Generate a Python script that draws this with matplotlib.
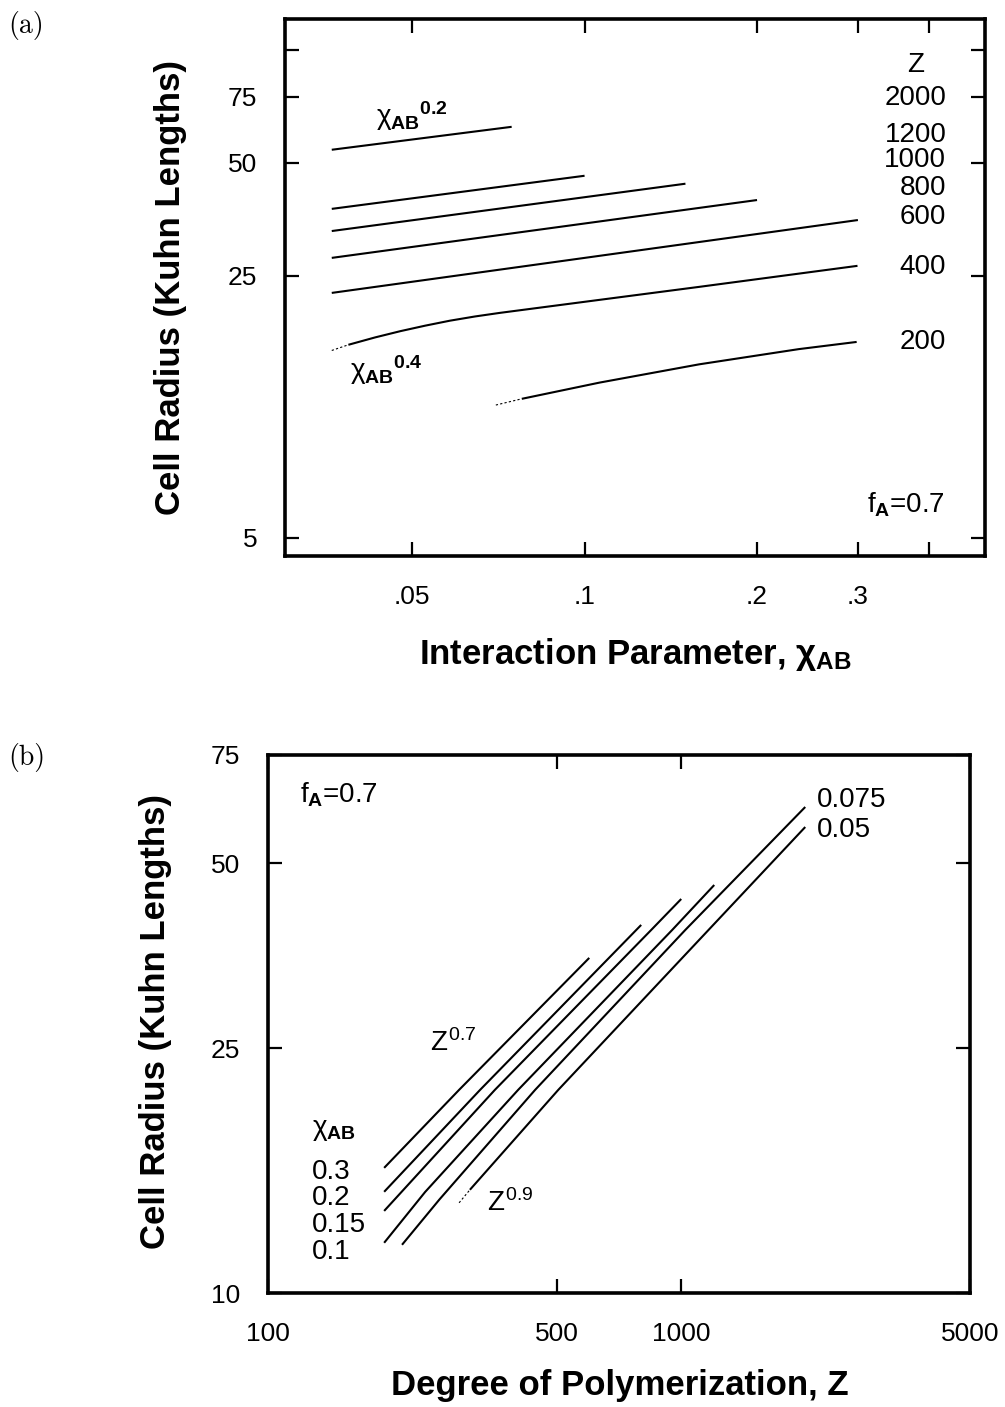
import matplotlib

matplotlib.use("Agg")
import matplotlib.pyplot as plt
from matplotlib.ticker import FixedLocator, FixedFormatter, NullLocator

plt.rcParams["font.family"] = ["Liberation Sans", "DejaVu Sans"]
plt.rcParams["mathtext.fontset"] = "custom"
plt.rcParams["mathtext.rm"] = "Liberation Sans"
plt.rcParams["mathtext.it"] = "Liberation Sans"
plt.rcParams["mathtext.bf"] = "Liberation Sans:bold"

# ---- panel (a): cell radius vs chi_AB, one curve per Z ----
chi_2000 = [0.0362, 0.0746]
r_2000 = [54.2, 62.4]
chi_1200 = [0.0362, 0.1]
r_1200 = [37.7, 46.2]
chi_1000 = [0.0362, 0.15]
r_1000 = [32.9, 44.0]
chi_800 = [0.0362, 0.2]
r_800 = [27.9, 39.8]
chi_600 = [0.0362, 0.3]
r_600 = [22.5, 35.2]
chi_400_lead = [0.0362, 0.0387]
r_400_lead = [15.8, 16.36]
chi_400 = [0.0387, 0.0431, 0.0477, 0.0527, 0.0582, 0.0644, 0.0711,
           0.1062, 0.1585, 0.2995]
r_400 = [16.36, 17.12, 17.79, 18.40, 18.97, 19.47, 19.90,
         21.56, 23.35, 26.57]
chi_200_lead = [0.070, 0.0777]
r_200_lead = [11.3, 11.74]
chi_200 = [0.0777, 0.1062, 0.1585, 0.2365, 0.2985]
r_200 = [11.74, 12.97, 14.51, 15.93, 16.65]

z_labels = ["2000", "1200", "1000", "800", "600", "400", "200"]
z_label_r = [74.5, 59.4, 50.9, 42.9, 35.9, 26.4, 16.6]

# ---- panel (b): cell radius vs Z, one curve per chi_AB ----
z_03 = [191, 290, 599]
r_03 = [15.98, 21.40, 35.08]
z_02 = [191, 326, 800]
r_02 = [14.61, 21.40, 39.69]
z_015 = [191, 354, 846, 1000]
r_015 = [13.60, 21.40, 38.95, 43.74]
z_01 = [191, 240, 403, 951, 1202]
r_01 = [12.07, 14.6, 21.40, 38.95, 46.09]
z_0075 = [211, 260, 443, 1023, 1996]
r_0075 = [11.98, 14.2, 21.40, 38.95, 61.73]
z_005_lead = [290, 308]
r_005_lead = [14.02, 14.72]
z_005 = [308, 504, 1996]
r_005 = [14.72, 21.40, 57.27]

chi_labels = ["0.3", "0.2", "0.15", "0.1"]
chi_label_r = [15.75, 14.3, 12.9, 11.66]

TICK_FS = 19
NOTE_FS = 20
LABEL_FS = 25

fig = plt.figure(figsize=(10.05, 14.07), dpi=100)
ax_a = fig.add_axes([0.2836, 0.6048, 0.6965, 0.3817])
ax_b = fig.add_axes([0.2667, 0.0810, 0.6985, 0.3824])


def style_axes(ax, xticks, xlabels, yticks, ylabels):
    ax.set_xscale("log")
    ax.set_yscale("log")
    ax.xaxis.set_major_locator(FixedLocator(xticks))
    ax.xaxis.set_major_formatter(FixedFormatter(xlabels))
    ax.yaxis.set_major_locator(FixedLocator(yticks))
    ax.yaxis.set_major_formatter(FixedFormatter(ylabels))
    ax.xaxis.set_minor_locator(NullLocator())
    ax.yaxis.set_minor_locator(NullLocator())
    ax.tick_params(which="major", direction="in", length=10, width=1.6,
                   top=True, right=True, labelsize=TICK_FS)
    ax.tick_params(axis="x", pad=21)
    ax.tick_params(axis="y", pad=20)
    for sp in ax.spines.values():
        sp.set_linewidth(2.6)


def set_labels(ax, xlabel, ylabel, xpos, ypos):
    ax.set_xlabel(xlabel, fontsize=LABEL_FS, fontweight="bold")
    ax.set_ylabel(ylabel, fontsize=LABEL_FS, fontweight="bold")
    ax.xaxis.label.set_verticalalignment("center")
    ax.yaxis.label.set_verticalalignment("center")
    ax.xaxis.set_label_coords(*xpos)
    ax.yaxis.set_label_coords(*ypos)


line_kw = dict(color="black", lw=1.5, solid_capstyle="butt")
lead_kw = dict(color="black", lw=0.8, ls=(0, (2, 2)))

# ---------- panel (a) ----------
for cx, cy in [(chi_2000, r_2000), (chi_1200, r_1200), (chi_1000, r_1000),
               (chi_800, r_800), (chi_600, r_600), (chi_400, r_400),
               (chi_200, r_200)]:
    ax_a.plot(cx, cy, **line_kw)
ax_a.plot(chi_400_lead, r_400_lead, **lead_kw)
ax_a.plot(chi_200_lead, r_200_lead, **lead_kw)

ax_a.set_xlim(0.03, 0.5)
ax_a.set_ylim(4.47, 121)
style_axes(ax_a, [0.05, 0.1, 0.2, 0.3, 0.4], [".05", ".1", ".2", ".3", ""],
           [5, 25, 50, 75, 100], ["5", "25", "50", "75", ""])

ax_a.text(0.378, 91.3, "Z", fontsize=NOTE_FS, ha="center", va="center")
for lab, r in zip(z_labels, z_label_r):
    ax_a.text(0.428, r, lab, fontsize=NOTE_FS, ha="right", va="center")
ax_a.text(0.0433, 66.5, r"${\chi_{\mathbf{AB}}}^{\mathbf{0.2}}$",
          fontsize=NOTE_FS, ha="left", va="center")
ax_a.text(0.0389, 14.0, r"${\chi_{\mathbf{AB}}}^{\mathbf{0.4}}$",
          fontsize=NOTE_FS, ha="left", va="center")
ax_a.text(0.3106, 6.12, r"$f_{\mathbf{A}}$=0.7", fontsize=NOTE_FS,
          ha="left", va="center")

set_labels(ax_a, r"Interaction Parameter, $\mathbf{\chi_{AB}}$",
           "Cell Radius (Kuhn Lengths)", (0.5, -0.184), (-0.164, 0.5))

# ---------- panel (b) ----------
for zx, zy in [(z_03, r_03), (z_02, r_02), (z_015, r_015), (z_01, r_01),
               (z_0075, r_0075), (z_005, r_005)]:
    ax_b.plot(zx, zy, **line_kw)
ax_b.plot(z_005_lead, r_005_lead, **lead_kw)

ax_b.set_xlim(100, 5000)
ax_b.set_ylim(10, 75)
style_axes(ax_b, [100, 500, 1000, 5000], ["100", "500", "1000", "5000"],
           [10, 25, 50, 75], ["10", "25", "50", "75"])

ax_b.text(119.5, 64.6, r"$f_{\mathbf{A}}$=0.7", fontsize=NOTE_FS,
          ha="left", va="center")
ax_b.text(2135, 63.4, "0.075", fontsize=NOTE_FS, ha="left", va="center")
ax_b.text(2135, 56.6, "0.05", fontsize=NOTE_FS, ha="left", va="center")
ax_b.text(247, 25.5, r"$Z^{0.7}$", fontsize=NOTE_FS, ha="left", va="center")
ax_b.text(339, 14.0, r"$Z^{0.9}$", fontsize=NOTE_FS, ha="left", va="center")
ax_b.text(128, 18.4, r"$\chi_{\mathbf{AB}}$", fontsize=NOTE_FS,
          ha="left", va="center")
for lab, r in zip(chi_labels, chi_label_r):
    ax_b.text(128, r, lab, fontsize=NOTE_FS, ha="left", va="center")

set_labels(ax_b, "Degree of Polymerization, Z",
           "Cell Radius (Kuhn Lengths)", (0.501, -0.171), (-0.161, 0.504))

# panel tags
fig.text(0.008, 1 - 25 / 1407, "(a)", family="cmr10", fontsize=20, va="center")
fig.text(0.008, 1 - 757 / 1407, "(b)", family="cmr10", fontsize=20, va="center")

fig.savefig("out.png", dpi=100)
plt.close(fig)
